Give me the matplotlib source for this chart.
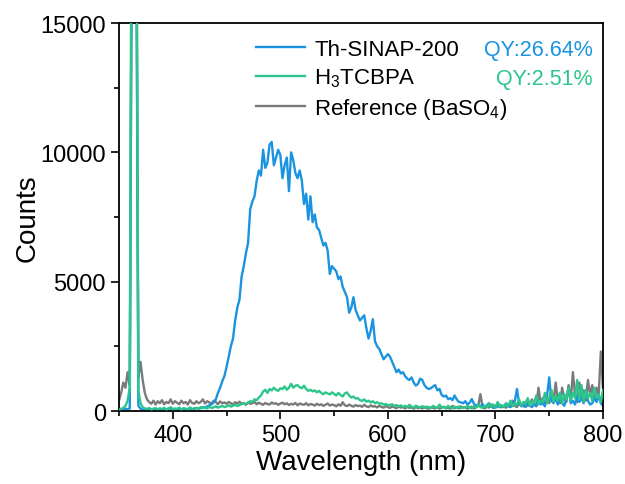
import numpy as np
import matplotlib
matplotlib.use('Agg')
import matplotlib.pyplot as plt
from matplotlib.ticker import MultipleLocator

plt.rcParams['font.family'] = ['Liberation Sans', 'DejaVu Sans']
plt.rcParams['mathtext.fontset'] = 'custom'
plt.rcParams['mathtext.rm'] = 'Liberation Sans'

# Emission spectra, every 2 nm from 350 to 800 nm
th_sinap = [
    60, 80, 50, 90, 70, 100, 20000, 30000, 20000, 200,          # 350
    90, 60, 40, 70, 50, 30, 80, 60, 40, 90,                     # 370
    50, 70, 40, 100, 60, 50, 80, 40, 70, 60,                    # 390
    90, 50, 60, 110, 70, 80, 120, 90, 110, 150,                 # 410
    130, 180, 220, 260, 330, 450, 700, 900, 1150, 1350,         # 430
    1700, 2100, 2500, 2800, 3500, 4000, 4300, 5200, 5600, 6100,  # 450
    6500, 7800, 8100, 8300, 8900, 9300, 9100, 10100, 9400, 9600,  # 470
    10300, 10400, 9500, 9800, 10100, 9900, 9000, 9500, 9800, 8500,  # 490
    10000, 9700, 9200, 9000, 9300, 8900, 8000, 8400, 7400, 8300,  # 510
    7300, 7600, 7100, 7000, 6700, 6400, 6500, 6200, 5300, 5600,  # 530
    5500, 5400, 5100, 5200, 4800, 4600, 4400, 3800, 4000, 4400,  # 550
    3900, 3700, 3500, 3600, 3700, 3200, 2800, 3100, 3550, 2700,  # 570
    2500, 2400, 2200, 2000, 2100, 2200, 2100, 1900, 1700, 1500,  # 590
    1600, 1450, 1500, 1350, 1250, 1200, 1300, 1100, 980, 1050,   # 610
    1250, 1200, 1000, 900, 850, 880, 950, 1000, 800, 850,        # 630
    620, 560, 600, 460, 500, 420, 600, 450, 350, 330,            # 650
    300, 380, 250, 320, 460, 280, 200, 250, 180, 260,            # 670
    150, 220, 300, 180, 120, 200, 160, 250, 140, 200,            # 690
    300, 180, 150, 250, 380, 850, 300, 180, 250, 150,            # 710
    400, 200, 150, 300, 200, 450, 250, 300, 180, 600,            # 730
    1300, 400, 300, 500, 250, 700, 300, 200, 500, 900,           # 750
    300, 400, 250, 600, 350, 500, 300, 800, 400, 250,            # 770
    300, 500, 350, 600, 300, 200,                                # 790
]
h3tcbpa = [
    60, 80, 120, 200, 400, 900, 25000, 30000, 25000, 800,       # 350
    300, 150, 100, 80, 120, 60, 90, 110, 70, 100,               # 370
    80, 120, 60, 90, 150, 70, 100, 80, 130, 60,                 # 390
    110, 90, 70, 140, 80, 100, 120, 90, 150, 110,               # 410
    130, 100, 160, 120, 140, 180, 130, 160, 200, 150,           # 430
    180, 220, 170, 200, 250, 190, 230, 270, 300, 260,           # 450
    320, 380, 350, 450, 420, 520, 600, 750, 820, 700,           # 470
    850, 800, 900, 820, 780, 880, 850, 950, 820, 900,           # 490
    1050, 900, 980, 1000, 920, 880, 980, 850, 780, 820,         # 510
    760, 800, 720, 780, 700, 650, 720, 680, 640, 720,           # 530
    660, 600, 700, 620, 560, 680, 720, 600, 520, 560,           # 550
    480, 500, 420, 390, 450, 360, 400, 330, 380, 300,           # 570
    340, 280, 300, 250, 270, 220, 240, 260, 200, 230,           # 590
    180, 220, 160, 200, 150, 240, 170, 130, 210, 160,           # 610
    140, 190, 120, 170, 150, 110, 200, 140, 120, 250,           # 630
    130, 160, 110, 200, 140, 100, 170, 130, 180, 110,           # 650
    150, 120, 200, 140, 100, 180, 130, 250, 150, 120,           # 670
    200, 140, 300, 160, 250, 120, 350, 180, 220, 150,           # 690
    280, 200, 400, 180, 300, 250, 450, 200, 350, 280,           # 710
    500, 220, 380, 300, 600, 250, 400, 350, 700, 300,           # 730
    500, 800, 350, 600, 400, 700, 300, 650, 450, 900,           # 750
    400, 700, 500, 1200, 450, 1000, 350, 800, 500, 700,         # 770
    400, 900, 500, 650, 350, 800,                               # 790
]
reference = [
    400, 700, 1100, 900, 1500, 1000, 20000, 30000, 20000, 1300,  # 350
    1900, 1200, 700, 450, 350, 280, 400, 250, 380, 300,         # 370
    420, 260, 350, 300, 450, 280, 380, 320, 260, 400,           # 390
    300, 350, 250, 420, 310, 280, 380, 300, 350, 450,           # 410
    290, 380, 330, 280, 400, 350, 260, 370, 300, 330,           # 430
    280, 350, 300, 250, 340, 290, 360, 270, 310, 240,           # 450
    330, 280, 300, 350, 260, 320, 280, 240, 310, 270,           # 470
    250, 330, 280, 300, 240, 290, 320, 260, 300, 230,           # 490
    280, 250, 310, 220, 290, 260, 240, 300, 220, 270,           # 510
    250, 210, 280, 230, 260, 200, 240, 290, 210, 250,           # 530
    230, 180, 260, 200, 340, 220, 190, 250, 200, 170,           # 550
    230, 190, 210, 160, 240, 180, 150, 220, 170, 190,           # 570
    140, 200, 160, 130, 190, 150, 120, 180, 140, 110,           # 590
    170, 130, 150, 100, 160, 120, 140, 90, 150, 110,            # 610
    130, 100, 160, 110, 90, 140, 120, 100, 150, 90,             # 630
    120, 160, 100, 130, 90, 200, 110, 140, 100, 180,            # 650
    120, 150, 90, 130, 170, 100, 140, 200, 650, 160,            # 670
    100, 180, 130, 250, 150, 120, 300, 140, 200, 160,           # 690
    130, 250, 180, 400, 200, 150, 300, 220, 180, 350,           # 710
    200, 300, 450, 250, 180, 900, 300, 500, 250, 450,           # 730
    300, 800, 350, 1100, 400, 300, 900, 500, 350, 1000,         # 750
    400, 1500, 600, 350, 1100, 500, 800, 400, 1200, 600,        # 770
    1000, 500, 900, 600, 2300, 900,                             # 790
]
wavelength = np.arange(350, 350 + 2 * len(th_sinap), 2)

labels = ['Th-SINAP-200', r'H$_{\mathregular{3}}$TCBPA', r'Reference (BaSO$_{\mathregular{4}}$)']
qy_labels = ['QY:26.64%', 'QY:2.51%']
blue = '#1a94e0'
green = '#2cc68c'
grey = '#7a7a7a'

fig = plt.figure(figsize=(6.25, 4.85), dpi=100)
ax = fig.add_axes([0.1904, 0.1505, 0.7744, 0.80])

l_ref, = ax.plot(wavelength, reference, color=grey, lw=1.7, zorder=1)
l_th, = ax.plot(wavelength, th_sinap, color=blue, lw=1.7, zorder=2)
l_h3, = ax.plot(wavelength, h3tcbpa, color=green, lw=1.7, zorder=3)

ax.set_xlim(350, 800)
ax.set_ylim(0, 15000)
ax.xaxis.set_major_locator(MultipleLocator(100))
ax.xaxis.set_minor_locator(MultipleLocator(50))
ax.yaxis.set_major_locator(MultipleLocator(5000))
ax.yaxis.set_minor_locator(MultipleLocator(2500))
ax.tick_params(which='both', direction='out', width=1.2, labelsize=17, top=False, right=False)
ax.tick_params(which='major', length=6)
ax.tick_params(which='minor', length=3.5)
for s in ax.spines.values():
    s.set_linewidth(1.3)

ax.set_xlabel('Wavelength (nm)', fontsize=20, labelpad=2)
ax.set_ylabel('Counts', fontsize=20, labelpad=0)

leg = ax.legend([l_th, l_h3, l_ref], labels, loc='upper left', bbox_to_anchor=(0.284, 0.959),
                frameon=False, fontsize=16, handlelength=2.2, handletextpad=0.4,
                labelspacing=0.3, borderpad=0, borderaxespad=0)
for h in leg.get_lines():
    h.set_linewidth(1.7)

ax.text(0.979, 0.933, qy_labels[0], color=blue, fontsize=15.5, ha='right', va='center',
        transform=ax.transAxes)
ax.text(0.979, 0.856, qy_labels[1], color=green, fontsize=15.5, ha='right', va='center',
        transform=ax.transAxes)

fig.savefig('out.png', dpi=100)
